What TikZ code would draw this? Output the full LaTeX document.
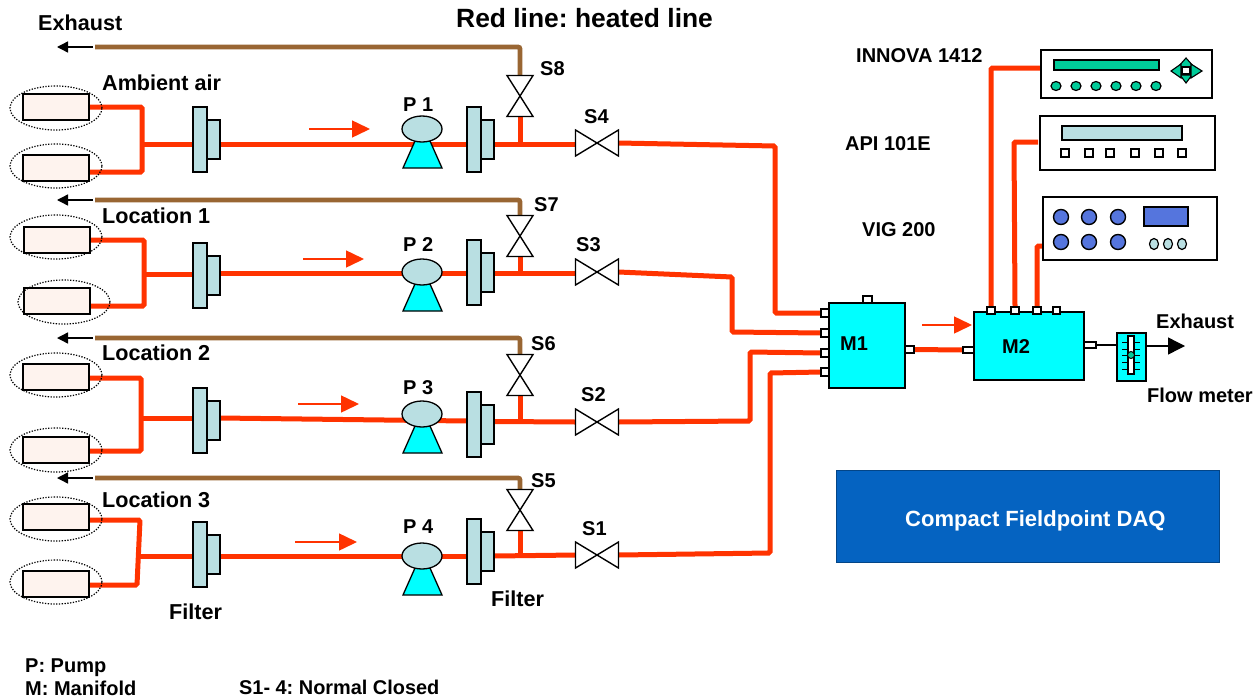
\documentclass[tikz,border=0pt]{standalone}
\usepackage{fontspec}
\setmainfont{Liberation Sans}
\usetikzlibrary{arrows.meta,shapes.geometric,backgrounds}
\definecolor{pipered}{HTML}{FF3300}
\definecolor{pipebrown}{HTML}{996633}
\definecolor{filterblue}{HTML}{B9DFE2}
\definecolor{mcyan}{HTML}{00FFFF}
\definecolor{igreen}{HTML}{00CC99}
\definecolor{iblue}{HTML}{5575DD}
\definecolor{daqblue}{HTML}{0563C1}
\definecolor{sensorfill}{HTML}{FEF3EE}
\frenchspacing
\tikzset{
  solid box/.style={rectangle,draw=black,line width=1.3pt,inner sep=0pt,outer sep=0pt},
  filterbox/.style={solid box,fill=filterblue},
  sensorbox/.style={solid box,fill=sensorfill},
  manifoldbox/.style={solid box,fill=mcyan},
  portbox/.style={solid box,fill=white},
  instrbox/.style={solid box,fill=white,line width=2.2pt},
  halo/.style={ellipse,draw=black,line width=1.2pt,dash pattern=on 1.3pt off 1.5pt,inner sep=0pt,minimum width=92pt,minimum height=44pt},
  pumphead/.style={ellipse,draw=black,line width=1.3pt,fill=filterblue,inner sep=0pt,minimum width=40pt,minimum height=26pt},
  pumpbase/.style={draw=black,line width=1.3pt,fill=mcyan,line join=miter},
  valvebox/.style={rectangle,inner sep=0pt,outer sep=0pt},
  valveline/.style={draw=black,line width=1.4pt,fill=white,line join=miter},
  keytri/.style={draw=black,line width=1.1pt,fill=igreen,line join=miter},
  hot/.style={draw=pipered,line width=5pt,rounded corners=1.5pt},
  vent/.style={draw=pipebrown,line width=4.8pt,rounded corners=2pt},
  flowarrow/.style={draw=pipered,line width=1.5pt,-{Triangle[length=18pt,width=17pt]}},
  exharrow/.style={draw=black,line width=1.4pt,-{Triangle[length=11pt,width=11pt]}},
  lab/.style={anchor=base west,inner sep=0pt,font=\fontsize{20}{24}\bfseries\selectfont},
  labb/.style={lab,font=\fontsize{21.6}{26}\bfseries\selectfont},
}
\newcommand{\rbox}[6]{%
  \pgfmathsetmacro\bxcx{((#3)+(#5))/2}\pgfmathsetmacro\bxcy{((#4)+(#6))/2}%
  \pgfmathsetmacro\bxw{(#5)-(#3)}\pgfmathsetmacro\bxh{(#6)-(#4)}%
  \node[#1,minimum width=\bxw pt,minimum height=\bxh pt] (#2) at (\bxcx,\bxcy) {};}
\newcommand{\sensor}[6]{% name, x1, top y, x2, halo cx, halo cy
  \rbox{sensorbox}{#1}{#2}{#3}{#4}{#3+26}
  \node[halo] (#1h) at (#5,#6) {};}
\newcommand{\filter}[3]{% name,x,top y
  \rbox{filterbox}{#1s}{#2+14}{#3+13}{#2+27}{#3+52}
  \rbox{filterbox}{#1}{#2}{#3}{#2+14}{#3+65}}
\newcommand{\pump}[3]{% name,cx,cy
  \draw[pumpbase] (#2-7,#3+12) -- (#2+8,#3+12) -- (#2+20,#3+39) -- (#2-19,#3+39) -- cycle;
  \node[pumphead] (#1) at (#2,#3) {};}
\newcommand{\hvalve}[3]{%
  \node[valvebox,minimum width=43pt,minimum height=26pt] (#1) at (#2,#3) {};
  \path[valveline] (#1.north west) -- (#1.south east) -- (#1.north east) -- (#1.south west) -- cycle;}
\newcommand{\vvalve}[3]{%
  \node[valvebox,minimum width=26pt,minimum height=41pt] (#1) at (#2,#3) {};
  \path[valveline] (#1.north west) -- (#1.south east) -- (#1.south west) -- (#1.north east) -- cycle;}
\newcommand{\tlab}[4]{\node[lab] (#1) at (#2,#3) {#4};}
\newcommand{\blab}[4]{\node[labb] (#1) at (#2,#3) {#4};}
\begin{document}
\begin{tikzpicture}[x=1pt,y=-1pt]
\useasboundingbox (0,0) rectangle (1260,699);

% sensors
\sensor{a1}{23}{94}{89}{56}{108}
\sensor{a2}{23}{155}{89}{56}{166}
\sensor{b1}{24}{227}{90}{56}{237}
\sensor{b2}{24}{288}{90}{64}{302}
\sensor{c1}{23}{364}{89}{56}{375}
\sensor{c2}{23}{437}{89}{56}{450}
\sensor{d1}{23}{504}{89}{56}{519}
\sensor{d2}{23}{571}{89}{56}{582}

% filters
\filter{fa}{193}{107} \filter{ga}{467}{107}
\filter{fb}{193}{243} \filter{gb}{467}{240}
\filter{fc}{193}{388} \filter{gc}{467}{392}
\filter{fd}{193}{522} \filter{gd}{467}{519}

% pumps
\pump{pa}{422}{129}
\pump{pb}{422}{272}
\pump{pc}{422}{414}
\pump{pd}{422}{556}

% valves
\hvalve{s4}{597}{143} \vvalve{s8}{520}{96}
\hvalve{s3}{597}{272} \vvalve{s7}{520}{236}
\hvalve{s2}{597}{422} \vvalve{s6}{520}{375}
\hvalve{s1}{597}{555} \vvalve{s5}{520}{510}

% manifolds
\rbox{manifoldbox}{m1}{829}{303}{905}{388}
\rbox{portbox}{m1l1}{821}{309}{829}{317}
\rbox{portbox}{m1l2}{821}{329}{829}{337}
\rbox{portbox}{m1l3}{821}{349}{829}{357}
\rbox{portbox}{m1l4}{821}{368}{829}{376}
\rbox{portbox}{m1t}{863}{296}{872}{303}
\rbox{portbox}{m1r}{905}{346}{914}{353}
\rbox{manifoldbox}{m2}{974}{312}{1084}{380}
\rbox{portbox}{m2l}{963}{347}{974}{353}
\rbox{portbox}{m2t1}{987}{307}{995}{314}
\rbox{portbox}{m2t2}{1011}{307}{1019}{314}
\rbox{portbox}{m2t3}{1033}{307}{1041}{314}
\rbox{portbox}{m2t4}{1053}{307}{1060}{314}
\rbox{portbox}{m2r}{1084}{342}{1096}{348}

% flow meter
\rbox{manifoldbox}{fm}{1117}{333}{1146}{381}
\foreach \ty in {342,349,355,362,369} \draw[black,line width=1pt] (1122,\ty) -- (1140,\ty);
\rbox{portbox}{fmt}{1128}{336}{1134}{374}
\node[circle,draw=black,line width=1pt,fill=igreen,inner sep=0pt,minimum size=7pt] (fmd) at (1131,355) {};

% instruments
\rbox{instrbox}{inn}{1041}{50}{1212}{98}
\rbox{solid box,fill=igreen}{innd}{1054}{60}{1159}{70}
\foreach \bx [count=\bi] in {1056,1076,1096,1116,1136,1156}
  \node[ellipse,draw=black,line width=1.2pt,fill=igreen,inner sep=0pt,minimum width=10pt,minimum height=9pt] (innb\bi) at (\bx,86) {};
\draw[keytri] (1186,58) -- (1178,67) -- (1194,67) -- cycle;
\draw[keytri] (1186,83) -- (1180,75) -- (1192,75) -- cycle;
\draw[keytri] (1171,71) -- (1181,64) -- (1181,78) -- cycle;
\draw[keytri] (1202,71) -- (1191,64) -- (1191,78) -- cycle;
\rbox{portbox}{innc}{1182}{67}{1190}{74}
\rbox{instrbox}{api}{1040}{116}{1215}{170}
\rbox{filterbox}{apid}{1062}{126}{1182}{140}
\foreach \bx [count=\bi] in {1065,1089,1110,1135,1159,1182}
  \node[portbox,line width=1.6pt,minimum size=7.5pt] (apib\bi) at (\bx,153) {};
\rbox{instrbox}{vig}{1043}{197}{1217}{260}
\foreach \bx [count=\bi] in {1061,1089,1118} {
  \node[circle,draw=black,line width=1.4pt,fill=iblue,inner sep=0pt,minimum size=15pt] (vigu\bi) at (\bx,217) {};
  \node[circle,draw=black,line width=1.4pt,fill=iblue,inner sep=0pt,minimum size=15pt] (vigl\bi) at (\bx,242) {};
}
\rbox{solid box,fill=iblue}{vigd}{1144}{207}{1188}{226}
\foreach \bx [count=\bi] in {1154,1168,1182}
  \node[ellipse,draw=black,line width=1.2pt,fill=filterblue,inner sep=0pt,minimum width=9pt,minimum height=11pt] (vigo\bi) at (\bx,244) {};

% DAQ
\node[rectangle,fill=daqblue,draw=daqblue!70!black,line width=.5pt,inner sep=0pt,minimum width=383pt,minimum height=92pt] (daq) at (1027.5,516) {};
\node[lab,text=white,font=\fontsize{22}{26}\bfseries\selectfont] (daqt) at (905,526) {Compact Fieldpoint DAQ};

% junctions and free ends
\coordinate (ja) at (142,144); \coordinate (jb) at (144,274); \coordinate (jc) at (141,418); \coordinate (jd) at (138,556);
\coordinate (xa) at (93,47);  \coordinate (xae) at (57,47);
\coordinate (xb) at (93,200); \coordinate (xbe) at (57,200);
\coordinate (xc) at (93,338); \coordinate (xce) at (57,338);
\coordinate (xd) at (93,478); \coordinate (xde) at (57,478);
\coordinate (va) at (95,47); \coordinate (vb) at (95,200); \coordinate (vc) at (95,338); \coordinate (vd) at (95,478);
\coordinate (fa1) at (309,129); \coordinate (fa2) at (370,129);
\coordinate (fb1) at (303,259); \coordinate (fb2) at (364,259);
\coordinate (fc1) at (298,404); \coordinate (fc2) at (359,404);
\coordinate (fd1) at (295,542); \coordinate (fd2) at (357,542);
\coordinate (fm1) at (922,325); \coordinate (fm2) at (972,325);
\coordinate (oute) at (1185,346);

\begin{scope}[on background layer]
  % inlet manifolds
  \draw[hot] (a1.east) -- (142,107) -- (142,172) -- (89,172);
  \draw[hot] (b1.east) -- (144,240) -- (144,306) -- (90,306);
  \draw[hot] (89,378) -- (141,378) -- (141,451) -- (89,451);
  \draw[hot] (89,520) -- (140,520) -- (137,585) -- (89,585);
  \draw[hot] (ja) -- (fa.west |- ja);
  \draw[hot] (jb) -- (fb.west |- jb);
  \draw[hot] (jc) -- (fc.west |- jc);
  \draw[hot] (jd) -- (fd.west |- jd);
  % main lines
  \draw[hot] (fas.east |- ja) -- (pa.center |- ja) -- (ga.west |- ja);
  \draw[hot] (fbs.east |- 0,273) -- (pb.center |- 0,273) -- (gb.west |- 0,273);
  \draw[hot] (fcs.east |- jc) -- (gc.west |- 0,421);
  \draw[hot] (fds.east |- jd) -- (gd.west |- jd);
  % after second filter
  \draw[hot] (gas.east |- ja) -- (s4.west |- ja);
  \draw[hot] (gbs.east |- 0,273) -- (s3.west |- 0,273);
  \draw[hot] (gcs.east) ++(0,-3) -- (s2.west);
  \draw[hot] (gds.east |- jd) -- (s1.west);
  % vertical risers
  \draw[hot] (s8.south) -- (s8.center |- ja);
  \draw[hot] (s7.south) -- (s7.center |- 0,273);
  \draw[hot] (s6.south) -- (520,421);
  \draw[hot] (s5.south) -- (520,556);
  % vents
  \draw[vent] (s8.north) |- (va);
  \draw[vent] (s7.north) |- (vb);
  \draw[vent] (s6.north) |- (vc);
  \draw[vent] (s5.north) |- (vd);
  % to M1
  \draw[hot] (s4.east) -- (775,146) -- (775,313) -- (m1l1.west);
  \draw[hot] (s3.east) -- (732,277) -- (732,332) -- (m1l2.west);
  \draw[hot] (s2.east) -- (750,421) -- (750,352) -- (m1l3.west);
  \draw[hot] (s1.east) -- (770,553) -- (770,373) -- (m1l4.west);
  \draw[hot] (m1r.east) -- (m2l.west);
  % instruments
  \draw[hot] (inn.west) ++(0,-6) -- (991,68) -- (m2t1.north);
  \draw[hot] (api.west) ++(-2,-1) -- (1014,142) -- (m2t2.north);
  \draw[hot] (vig.west |- 0,246) -- (1037,246) -- (m2t3.north);
  \draw[black,line width=1.4pt] (m2r.east) -- (fm.west |- m2r);
\end{scope}

% arrows
\draw[exharrow] (xa) -- (xae);
\draw[exharrow] (xb) -- (xbe);
\draw[exharrow] (xc) -- (xce);
\draw[exharrow] (xd) -- (xde);
\draw[flowarrow] (fa1) -- (fa2);
\draw[flowarrow] (fb1) -- (fb2);
\draw[flowarrow] (fc1) -- (fc2);
\draw[flowarrow] (fd1) -- (fd2);
\draw[flowarrow] (fm1) -- (fm2);
\draw[draw=black,line width=1.4pt,-{Triangle[length=17pt,width=17pt]}] (fm.east |- oute) -- (oute);

% labels
\node[lab,font=\fontsize{26.4}{30}\bfseries\selectfont] (title) at (456,27) {Red line: heated line};
\blab{t1}{38}{30}{Exhaust}
\blab{t2}{102}{90}{Ambient air}
\blab{t3}{102}{223}{Location 1}
\blab{t4}{102}{360}{Location 2}
\blab{t5}{102}{507}{Location 3}
\tlab{p1}{403}{111}{P 1}
\tlab{p2}{403}{251}{P 2}
\tlab{p3}{403}{394}{P 3}
\tlab{p4}{403}{533}{P 4}
\tlab{l8}{540}{75}{S8}
\tlab{l4}{584}{123}{S4}
\tlab{l7}{534}{211}{S7}
\tlab{l3}{576}{251}{S3}
\tlab{l6}{531}{350}{S6}
\tlab{l2}{581}{401}{S2}
\tlab{l5}{531}{487}{S5}
\tlab{l1}{582}{535}{S1}
\blab{f1}{169}{619}{Filter}
\blab{f2}{491}{606}{Filter}
\tlab{k1}{25}{672}{P: Pump}
\tlab{k2}{25}{695}{M: Manifold}
\node[lab,font=\fontsize{19.9}{24}\bfseries\selectfont] (k3) at (239,694) {S1- 4: Normal Closed};
\tlab{i1}{856}{62}{INNOVA 1412}
\tlab{i2}{845}{150}{API 101E}
\tlab{i3}{862}{236}{VIG 200}
\tlab{lm1}{840}{350}{M1}
\tlab{lm2}{1002}{353}{M2}
\tlab{e2}{1156}{328}{Exhaust}
\tlab{fl}{1147}{402}{Flow meter}
\end{tikzpicture}
\end{document}
